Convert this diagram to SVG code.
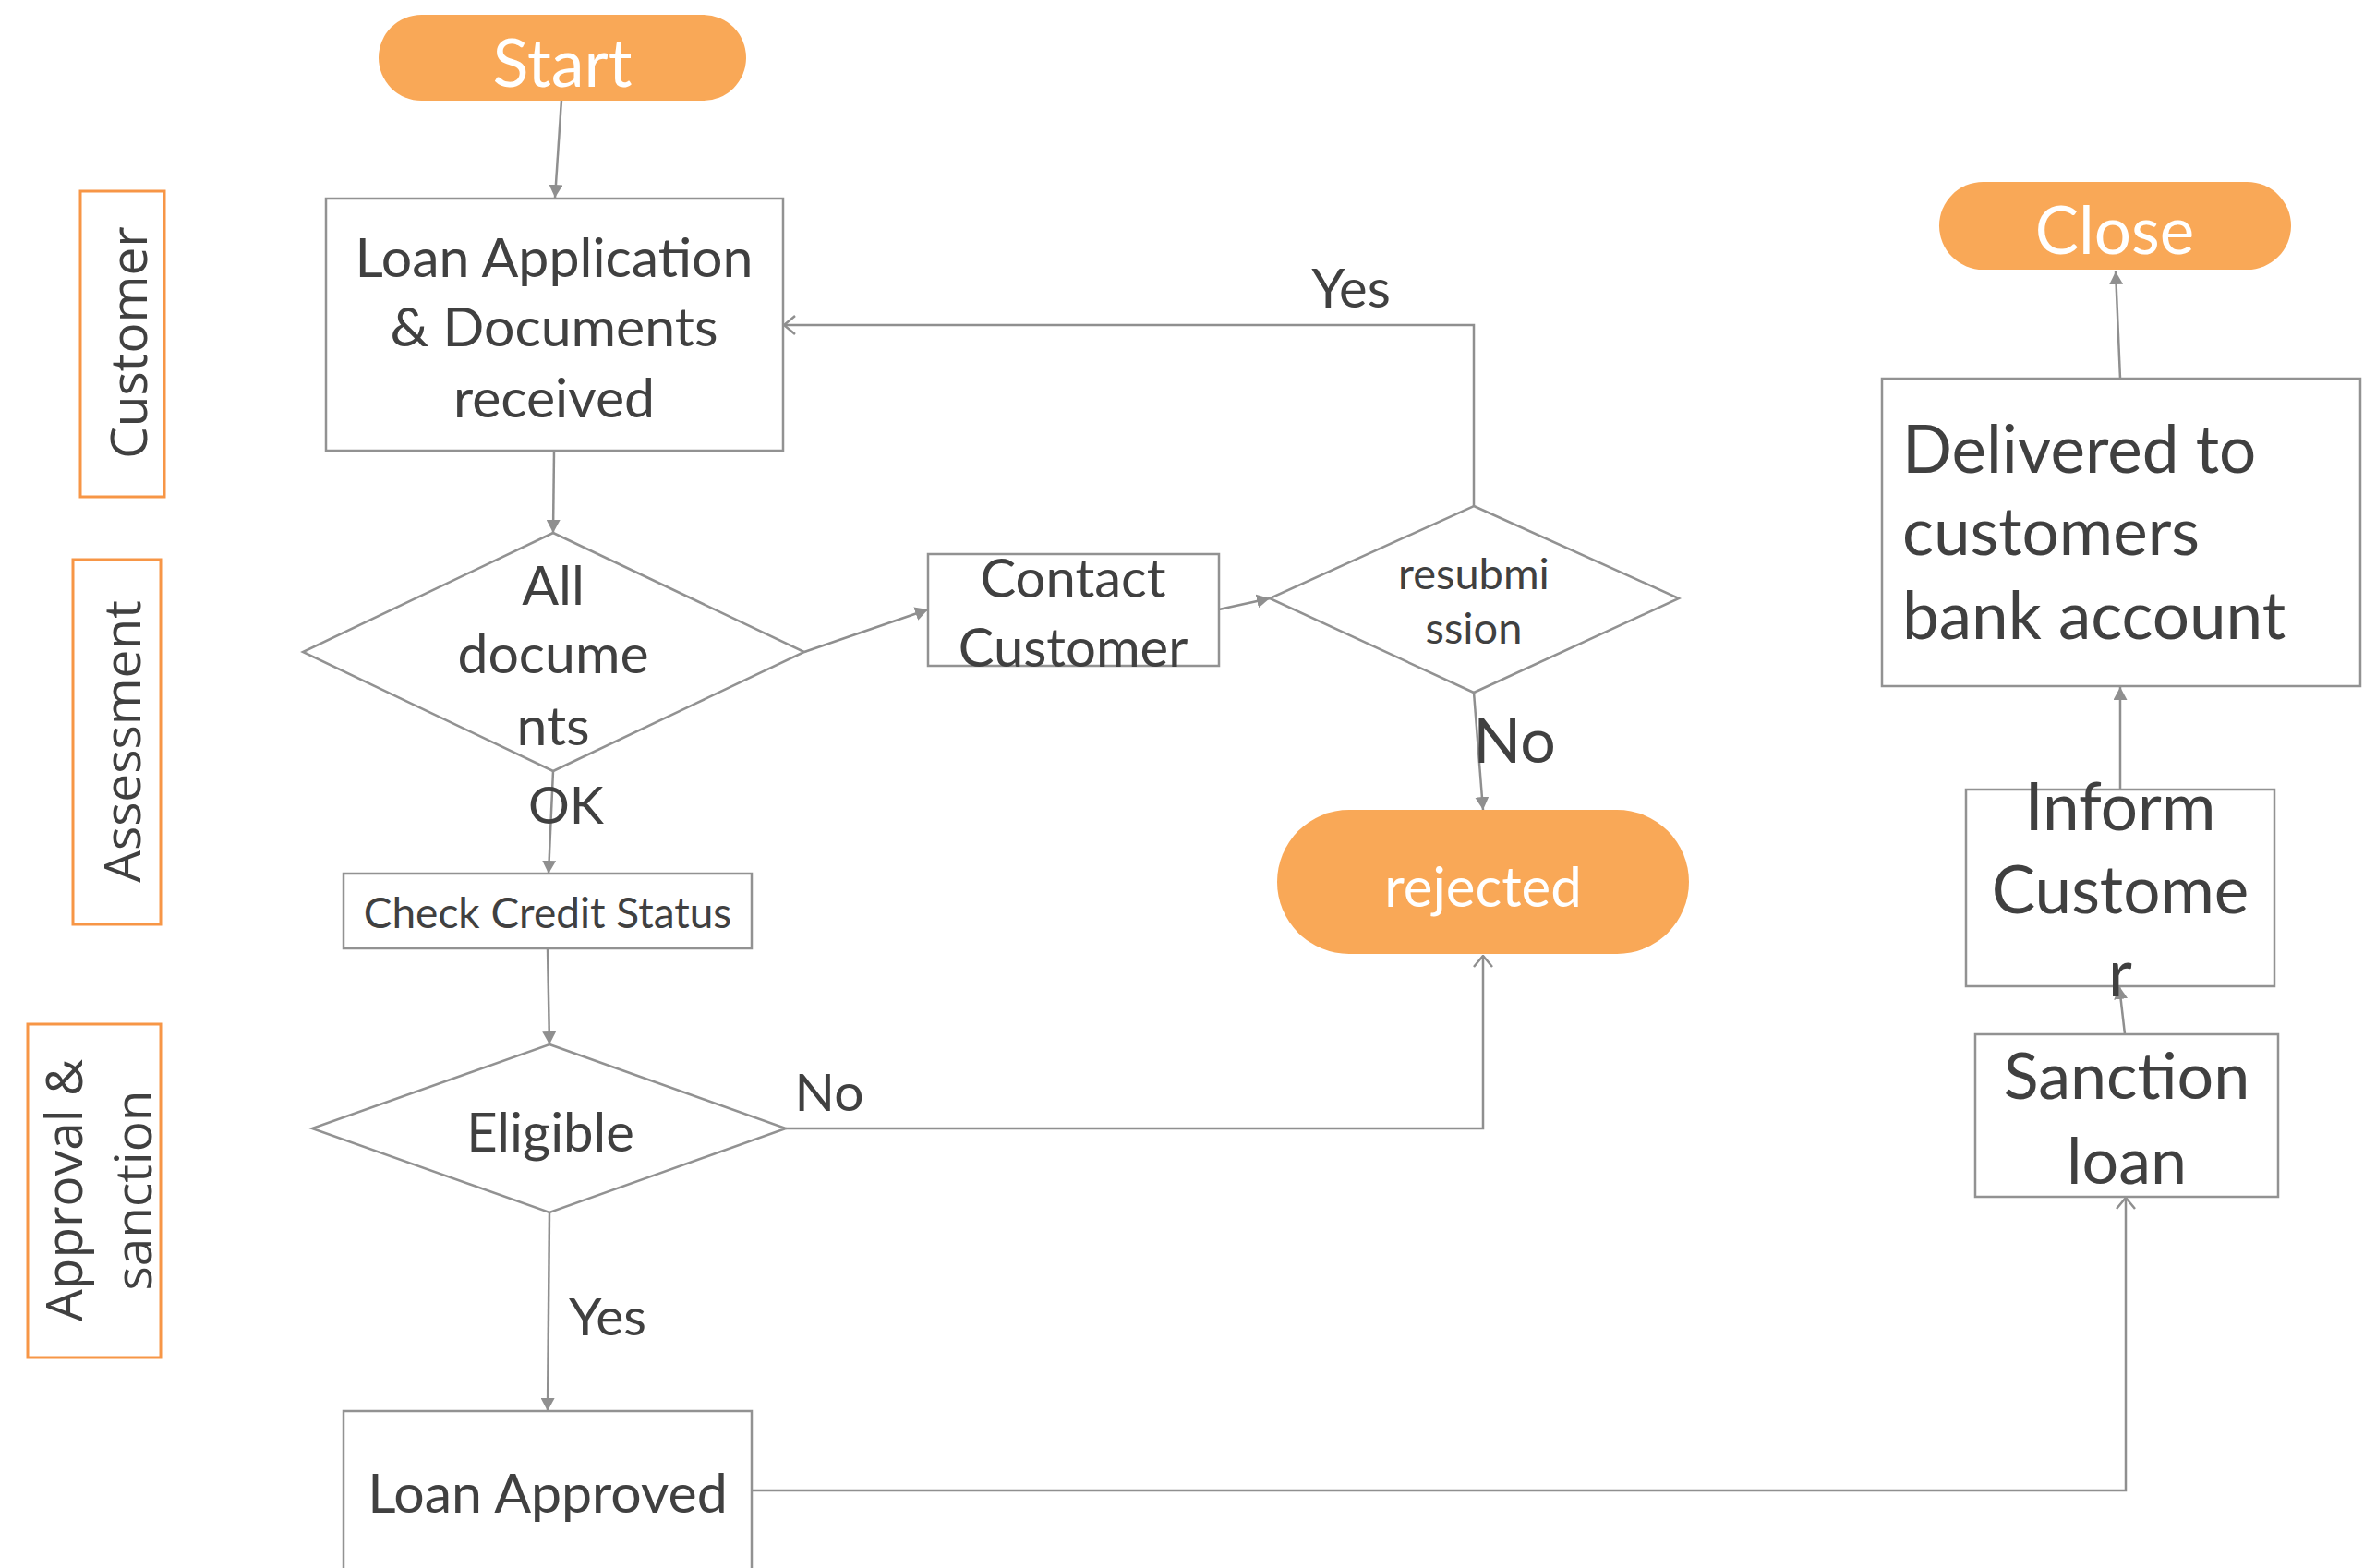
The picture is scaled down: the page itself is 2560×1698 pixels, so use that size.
<svg xmlns="http://www.w3.org/2000/svg" width="2560" height="1698" viewBox="0 0 2560 1698">
  <style>
    .box { fill: #ffffff; stroke: #929292; stroke-width: 2.5; }
    .term { fill: #F9A857; }
    .lane { fill: none; stroke: #F79646; stroke-width: 3; }
    .edge { fill: none; stroke: #8f8f8f; stroke-width: 2.5; }
    .t { font-family: Lato, "Carlito", "Open Sans", sans-serif; fill: #404040; text-anchor: middle; }
    .tw { font-family: Lato, "Carlito", "Open Sans", sans-serif; fill: #ffffff; text-anchor: middle; }
    .lt { font-family: "Open Sans", "Noto Sans", sans-serif; fill: #404040; text-anchor: middle; font-size: 55px; }
  </style>
  <defs>
    <marker id="tri" viewBox="0 0 14 15" refX="14" refY="7.5" markerWidth="14" markerHeight="15" markerUnits="userSpaceOnUse" orient="auto">
      <path d="M0,0 L14,7.5 L0,15 z" fill="#8f8f8f"/>
    </marker>
    <marker id="vee" viewBox="0 0 14 22" refX="13" refY="11" markerWidth="14" markerHeight="22" markerUnits="userSpaceOnUse" orient="auto">
      <path d="M1,1 L13,11 L1,21" fill="none" stroke="#8f8f8f" stroke-width="2.5"/>
    </marker>
  </defs>

  <rect width="2560" height="1698" fill="#ffffff"/>

  <!-- swimlane labels -->
  <g id="lane-customer">
    <rect class="lane" x="87" y="207" width="91" height="331"/>
    <text class="lt" x="159" y="371" transform="rotate(-90 159 371)">Customer</text>
  </g>
  <g id="lane-assessment">
    <rect class="lane" x="79" y="606" width="95" height="395"/>
    <text class="lt" x="152" y="803" transform="rotate(-90 152 803)">Assessment</text>
  </g>
  <g id="lane-approval">
    <rect class="lane" x="30" y="1109" width="144" height="361"/>
    <text class="lt" transform="rotate(-90 126 1289)"><tspan x="126" y="1252">Approval &amp;</tspan><tspan x="126" y="1327">sanction</tspan></text>
  </g>

  <!-- connectors -->
  <g id="connectors">
    <path class="edge" d="M608,108 L601,214" marker-end="url(#tri)"/>
    <path class="edge" d="M600,488 L599,577" marker-end="url(#tri)"/>
    <path class="edge" d="M871,706 L1005,660" marker-end="url(#tri)"/>
    <path class="edge" d="M1320,660 L1375,648" marker-end="url(#tri)"/>
    <path class="edge" d="M1596,548 L1596,352 L849,352" marker-end="url(#vee)"/>
    <path class="edge" d="M1596,750 L1606,877" marker-end="url(#tri)"/>
    <path class="edge" d="M599,835 L594,946" marker-end="url(#tri)"/>
    <path class="edge" d="M593,1027 L595,1131" marker-end="url(#tri)"/>
    <path class="edge" d="M851,1222 L1606,1222 L1606,1035" marker-end="url(#vee)"/>
    <path class="edge" d="M595,1313 L593,1528" marker-end="url(#tri)"/>
    <path class="edge" d="M814,1614 L2302,1614 L2302,1297" marker-end="url(#vee)"/>
    <path class="edge" d="M2301,1120 L2295,1068" marker-end="url(#tri)"/>
    <path class="edge" d="M2296,855 L2296,744" marker-end="url(#tri)"/>
    <path class="edge" d="M2296,410 L2291,294" marker-end="url(#tri)"/>
    <text class="t" x="1463" y="333" font-size="58">Yes</text>
    <text class="t" x="613" y="892" font-size="56">OK</text>
    <text class="t" x="1640" y="826" font-size="68">No</text>
    <text class="t" x="898" y="1203" font-size="57">No</text>
    <text class="t" x="658" y="1446" font-size="57">Yes</text>
  </g>

  <!-- nodes -->
  <g id="start">
    <rect class="term" x="410" y="16" width="398" height="93" rx="46.5"/>
    <text class="tw" x="609" y="94" font-size="72">Start</text>
  </g>
  <g id="loan-application">
    <rect class="box" x="353" y="215" width="495" height="273"/>
    <text class="t" font-size="59"><tspan x="600" y="300">Loan Application</tspan><tspan x="600" y="375">&amp; Documents</tspan><tspan x="600" y="452">received</tspan></text>
  </g>
  <g id="all-documents">
    <polygon class="box" points="599,577 871,706 599,835 328,706"/>
    <text class="t" font-size="59"><tspan x="599" y="655">All</tspan><tspan x="599" y="729">docume</tspan><tspan x="599" y="807">nts</tspan></text>
  </g>
  <g id="contact-customer">
    <rect class="box" x="1005" y="600" width="315" height="121"/>
    <text class="t" font-size="58"><tspan x="1162" y="647">Contact</tspan><tspan x="1162" y="722">Customer</tspan></text>
  </g>
  <g id="resubmission">
    <polygon class="box" points="1596,548 1818,648 1596,750 1375,648"/>
    <text class="t" font-size="47"><tspan x="1596" y="638">resubmi</tspan><tspan x="1596" y="697">ssion</tspan></text>
  </g>
  <g id="rejected">
    <rect class="term" x="1383" y="877" width="446" height="156" rx="78"/>
    <text class="tw" x="1606" y="982" font-size="60">rejected</text>
  </g>
  <g id="check-credit">
    <rect class="box" x="372" y="946" width="442" height="81"/>
    <text class="t" x="593" y="1005" font-size="46">Check Credit Status</text>
  </g>
  <g id="eligible">
    <polygon class="box" points="595,1131 851,1222 595,1313 338,1222"/>
    <text class="t" x="596" y="1247" font-size="58">Eligible</text>
  </g>
  <g id="loan-approved">
    <rect class="box" x="372" y="1528" width="442" height="200"/>
    <text class="t" x="593" y="1638" font-size="59">Loan Approved</text>
  </g>
  <g id="sanction-loan">
    <rect class="box" x="2139" y="1120" width="328" height="176"/>
    <text class="t" font-size="70"><tspan x="2303" y="1190">Sanction</tspan><tspan x="2303" y="1282">loan</tspan></text>
  </g>
  <g id="inform-customer">
    <rect class="box" x="2129" y="855" width="334" height="213"/>
    <text class="t" font-size="71"><tspan x="2296" y="899">Inform</tspan><tspan x="2296" y="989">Custome</tspan><tspan x="2296" y="1079">r</tspan></text>
  </g>
  <g id="delivered">
    <rect class="box" x="2038" y="410" width="518" height="333"/>
    <text class="t" font-size="71" style="text-anchor:start"><tspan x="2060" y="512">Delivered to</tspan><tspan x="2060" y="601">customers</tspan><tspan x="2060" y="692">bank account</tspan></text>
  </g>
  <g id="close">
    <rect class="term" x="2100" y="197" width="381" height="95" rx="47.5"/>
    <text class="tw" x="2290" y="275" font-size="71">Close</text>
  </g>
</svg>
